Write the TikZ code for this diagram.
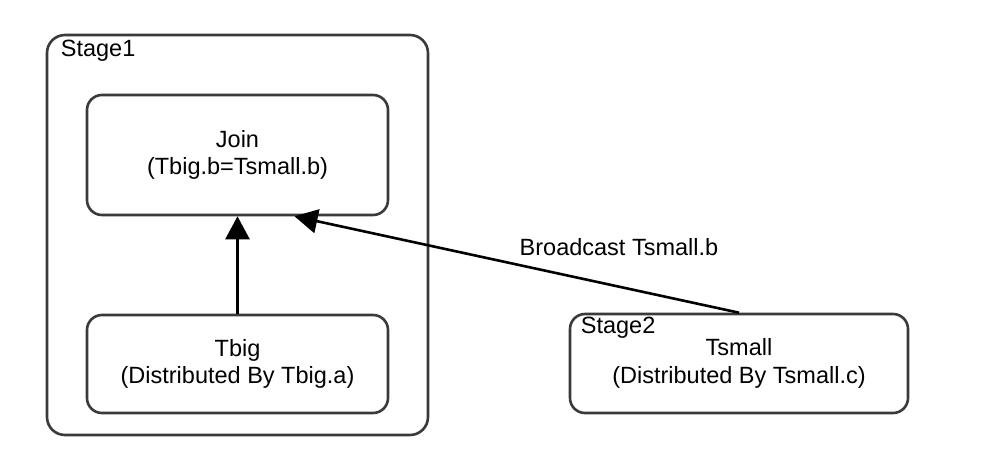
\documentclass[tikz,border=0pt]{standalone}
\usepackage{fontspec}
\setmainfont{Liberation Sans}
\usetikzlibrary{arrows.meta, positioning}

\definecolor{edgegray}{HTML}{3A3A3A}

\begin{document}
\begin{tikzpicture}[x=1pt, y=-1pt,
    box/.style={draw=edgegray, line width=2.6pt, rounded corners=15pt, align=center,
                font=\fontsize{23.5}{27.5}\selectfont},
    stagebox/.style={box, rounded corners=18pt},
    stagelbl/.style={inner sep=0pt, anchor=base west, font=\fontsize{23.5}{27.5}\selectfont},
    arr/.style={-{Triangle[length=23pt, width=24pt]}, line width=2.6pt, black}]
    \useasboundingbox (0,0) rectangle (1006,458);

    % Stage 1 container
    \node[stagebox, minimum width=381pt, minimum height=400pt] (stage1) at (237.5,235) {};
    \node[stagelbl] (stage1lbl) at ([xshift=15pt, yshift=-23pt]stage1.north west) {Stage1};

    % Join and big table
    \node[box, minimum width=301pt, minimum height=120pt] (join) at (237.5,155) {Join\\(Tbig.b=Tsmall.b)};
    \node[box, minimum width=301pt, minimum height=98pt] (tbig) at (237.5,364) {Tbig\\(Distributed By Tbig.a)};

    % Stage 2 with small table
    \node[box, minimum width=338pt, minimum height=99pt] (tsmall) at (739,363.5) {Tsmall\\(Distributed By Tsmall.c)};
    \node[stagelbl] (stage2lbl) at ([xshift=12pt, yshift=-21pt]tsmall.north west) {Stage2};

    % Data flow
    \coordinate (joinin) at ([xshift=57pt]join.south);
    \draw[arr] (tbig) -- (join);
    \draw[arr] (tsmall.north) -- (joinin)
        node[pos=0.27, above=30pt, inner sep=0pt, font=\fontsize{23.5}{27.5}\selectfont] (bclbl) {Broadcast Tsmall.b};
\end{tikzpicture}
\end{document}
